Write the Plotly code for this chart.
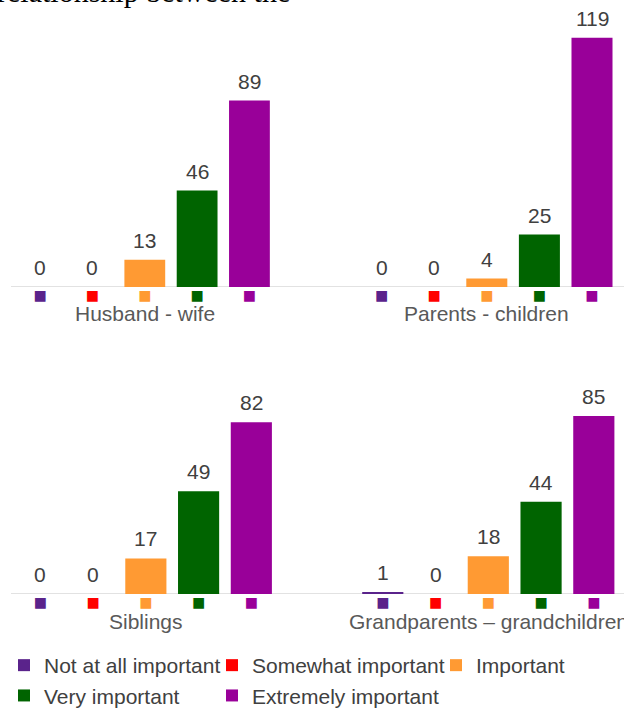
import plotly.graph_objects as go

levels = ["Not at all important", "Somewhat important", "Important", "Very important", "Extremely important"]
colors = ["#5A238B", "#FF0000", "#FF9A33", "#006400", "#990099"]
groups = ["Husband - wife", "Parents - children", "Siblings", "Grandparents \u2013 grandchildren"]
husband_wife = [0, 0, 13, 46, 89]
parents_children = [0, 0, 4, 25, 119]
siblings = [0, 0, 17, 49, 82]
grandparents = [1, 0, 18, 44, 85]
values = [husband_wife, parents_children, siblings, grandparents]
header_text = "relationship between the"
legend_column = ["legend", "legend2", "legend3", "legend", "legend2"]

W, H = 624, 711
xdom = [(14, 275.6), (355.3, 618.3), (14, 277.7), (356.4, 620.2)]
ydom = [(287, 14.6), (287, 14.6), (594, 321.6), (594, 321.6)]
FS = 21

fig = go.Figure()
layout = dict(width=W, height=H, margin=dict(l=0, r=0, t=0, b=0, autoexpand=False),
              paper_bgcolor="white", plot_bgcolor="white",
              barmode="overlay", bargap=0.22,
              font=dict(family="Liberation Sans, Arial, sans-serif", color="#595959"))
annotations = []
shapes = []
ticktext = [f'<span style="color:{c}">\u25A0</span>' for c in colors]

for p in range(4):
    sx = "" if p == 0 else str(p + 1)
    for j, lv in enumerate(levels):
        fig.add_trace(go.Bar(x=[lv], y=[values[p][j]], name=lv, legendgroup=lv,
                             legend=legend_column[j],
                             showlegend=(p == 0), marker=dict(color=colors[j], line=dict(width=0)),
                             xaxis="x" + sx, yaxis="y" + sx, hoverinfo="skip"))
        annotations.append(dict(x=lv, y=values[p][j], xref="x" + sx, yref="y" + sx,
                                text=str(values[p][j]), showarrow=False, yanchor="bottom",
                                yshift=6, font=dict(size=FS, color="#404040")))
    # group label under each panel
    annotations.append(dict(x=0.5, y=0, xref=("x" + sx) + " domain", yref="y" + sx,
                            text=groups[p], showarrow=False, xanchor="center", yanchor="middle",
                            yshift=-27, font=dict(size=FS, color="#595959")))
    x0, x1 = xdom[p]
    yb, yt = ydom[p]
    layout["xaxis" + sx] = dict(domain=[x0 / W, x1 / W], anchor="y" + sx, type="category",
                                categoryorder="array", categoryarray=levels, range=[-0.5, 4.5],
                                tickvals=levels, ticktext=ticktext, showline=False, showgrid=False,
                                zeroline=False, ticks="", tickfont=dict(size=22),
                                ticklabelstandoff=-7)
    layout["yaxis" + sx] = dict(domain=[1 - yb / H, 1 - yt / H], anchor="x" + sx, range=[0, 130],
                                visible=False, fixedrange=True)
    if p in (0, 2):
        shapes.append(dict(type="line", xref="paper", yref="y" + sx, x0=11 / W, x1=1, y0=0, y1=0,
                           line=dict(color="#D9D9D9", width=1.3), layer="below"))

annotations.append(dict(x=0, y=1, xref="paper", yref="paper", xanchor="left", yanchor="bottom",
                        text=header_text, showarrow=False, xshift=-5, yshift=-10,
                        font=dict(family="Liberation Serif, Times New Roman, serif", size=30, color="black")))

layout["annotations"] = annotations
layout["shapes"] = shapes
legend_common = dict(orientation="v", xanchor="left", yref="container", y=1 - 645 / H, yanchor="top",
                     font=dict(size=FS, color="#404040"), traceorder="normal",
                     bgcolor="rgba(0,0,0,0)", tracegroupgap=0)
layout["legend"] = dict(x=4 / W, **legend_common)
layout["legend2"] = dict(x=212 / W, **legend_common)
layout["legend3"] = dict(x=436 / W, **legend_common)
fig.update_layout(**layout)
fig.write_html("out.html")
